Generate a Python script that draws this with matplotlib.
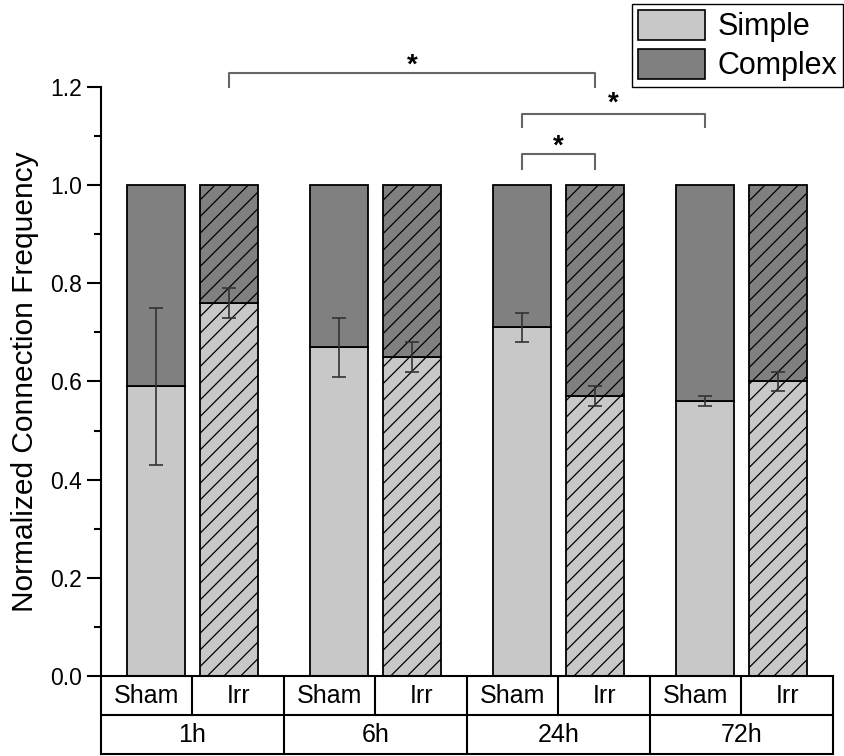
import numpy as np
import matplotlib.pyplot as plt
from matplotlib.patches import Patch

plt.rcParams['font.family'] = ['Liberation Sans', 'DejaVu Sans']
plt.rcParams['hatch.linewidth'] = 0.9

# dati
gruppi = ['1h', '6h', '24h', '72h']
condizioni = ['Sham', 'Irr']
simple = np.array([0.59, 0.76, 0.67, 0.65, 0.71, 0.57, 0.56, 0.60])
errori = np.array([0.16, 0.03, 0.06, 0.03, 0.03, 0.02, 0.01, 0.02])
complex_ = 1 - simple

# posizioni: Sham/Irr distanti 1, gruppi distanti 2.5
pos = np.array([g * 2.5 + c for g in range(4) for c in range(2)])
col_simple = '#c8c8c8'
col_complex = '#808080'

fig = plt.figure(figsize=(8.45, 7.56), dpi=100)
ax = fig.add_axes([0.1195, 0.1058, 0.8663, 0.7792])
tab = fig.add_axes([0.1195, 0.0026, 0.8663, 0.1032])

for i, x in enumerate(pos):
    h = '//' if i % 2 == 1 else None
    ax.bar(x, simple[i], width=0.8, color=col_simple, edgecolor='black', linewidth=1.3, hatch=h)
    ax.bar(x, complex_[i], width=0.8, bottom=simple[i], color=col_complex, edgecolor='black', linewidth=1.3, hatch=h)
    ax.errorbar(x, simple[i], yerr=errori[i], fmt='none', ecolor='#333333', elinewidth=1.2, capsize=5, capthick=1.2)

ax.set_xlim(-0.75, 9.25)
ax.set_ylim(0, 1.2)
ax.set_yticks(np.arange(0, 1.21, 0.2))
ax.set_yticks(np.arange(0.1, 1.2, 0.2), minor=True)
ax.yaxis.set_major_formatter(plt.FuncFormatter(lambda v, p: '%.1f' % v))
ax.tick_params(axis='y', which='major', length=10, width=1.5, labelsize=16.5)
ax.tick_params(axis='y', which='minor', length=5, width=1.5)
ax.set_xticks([])
for s in ['top', 'right', 'bottom']:
    ax.spines[s].set_visible(False)
ax.spines['left'].set_linewidth(1.5)
ax.set_ylabel('Normalized Connection Frequency', fontsize=21.5)
ax.yaxis.set_label_coords(-0.085, 0.5)

# parentesi di significatività
brackets = [(1, 5, 1.199, 1.229, 1.244), (4, 6, 1.119, 1.145, 1.166), (4, 5, 1.033, 1.064, 1.079)]
for a, b, y0, y1, ys in brackets:
    ax.plot([pos[a], pos[a], pos[b], pos[b]], [y0, y1, y1, y0], color='#666666', lw=1.5, clip_on=False)
    ax.text((pos[a] + pos[b]) / 2, ys, '*', ha='center', va='center', fontsize=20, fontweight='bold', clip_on=False)

# tabella sotto l'asse
tab.set_xlim(-0.75, 9.25)
tab.set_ylim(0, 2)
tab.set_xticks([])
tab.set_yticks([])
for s in tab.spines.values():
    s.set_linewidth(1.5)
tab.axhline(1, color='black', lw=1.5)
for g in range(4):
    tab.plot([g * 2.5 + 0.5] * 2, [1, 2], color='black', lw=1.5)
    if g < 3:
        tab.axvline(g * 2.5 + 1.75, color='black', lw=1.5)
    tab.text(g * 2.5 + 0.5, 0.5, gruppi[g], ha='center', va='center', fontsize=18)
    tab.text(g * 2.5 - 0.125, 1.5, condizioni[0], ha='center', va='center', fontsize=18)
    tab.text(g * 2.5 + 1.125, 1.5, condizioni[1], ha='center', va='center', fontsize=18)

handles = [Patch(facecolor=col_simple, edgecolor='black', linewidth=1.2, label='Simple'),
           Patch(facecolor=col_complex, edgecolor='black', linewidth=1.2, label='Complex')]
leg = fig.legend(handles=handles, loc='upper right', bbox_to_anchor=(1.0, 0.997), fontsize=22,
                 fancybox=False, edgecolor='black', framealpha=1, handlelength=2.2, handleheight=1.15,
                 labelspacing=0.2, borderpad=0.2, handletextpad=0.4, borderaxespad=0.05)
leg.get_frame().set_linewidth(1.0)

fig.savefig('out.png', dpi=100)
